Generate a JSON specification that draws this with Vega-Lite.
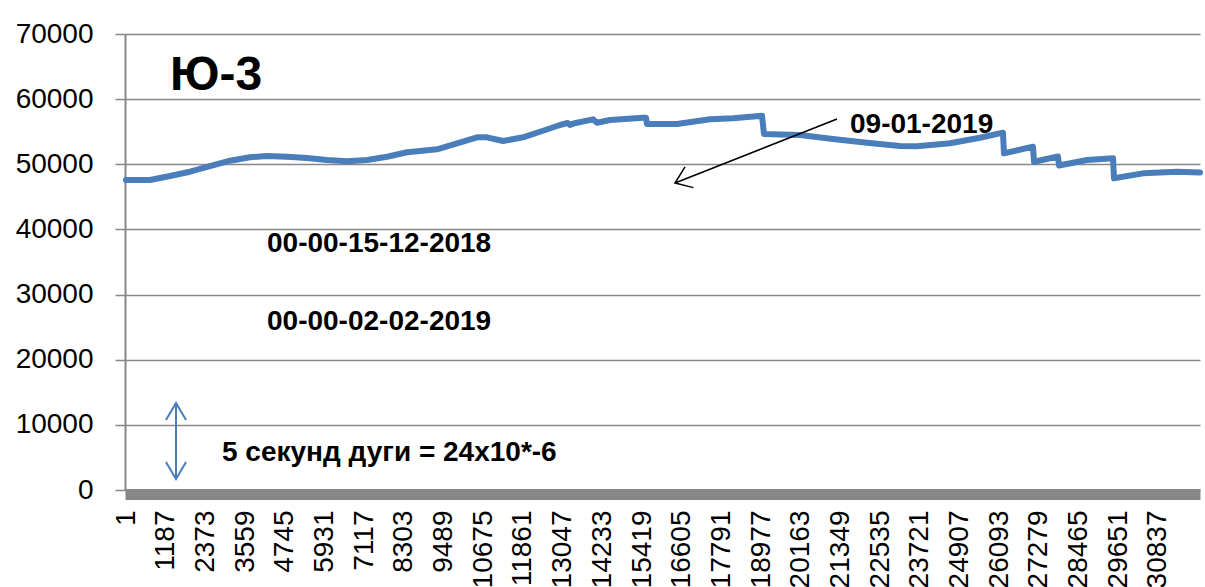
{
  "$schema": "https://vega.github.io/schema/vega-lite/v6.json",
  "width": 1075,
  "height": 456,
  "autosize": "none",
  "padding": {"left": 125, "top": 34, "right": 5, "bottom": 97},
  "background": "white",
  "config": {"view": {"stroke": null}, "font": "Liberation Sans"},
  "datasets": {
    "series": [
      {"idx": 1, "val": 47600}, {"idx": 718, "val": 47585}, {"idx": 1316, "val": 48200}, {"idx": 1913, "val": 48860},
      {"idx": 2511, "val": 49730}, {"idx": 3109, "val": 50550}, {"idx": 3706, "val": 51070}, {"idx": 4214, "val": 51270},
      {"idx": 4812, "val": 51160}, {"idx": 5409, "val": 50960}, {"idx": 6007, "val": 50655}, {"idx": 6605, "val": 50455},
      {"idx": 7202, "val": 50655}, {"idx": 7800, "val": 51160}, {"idx": 8398, "val": 51840}, {"idx": 8786, "val": 52040},
      {"idx": 9294, "val": 52300}, {"idx": 9892, "val": 53220}, {"idx": 10489, "val": 54140}, {"idx": 10788, "val": 54140},
      {"idx": 11266, "val": 53570}, {"idx": 11864, "val": 54140}, {"idx": 12461, "val": 55150}, {"idx": 12969, "val": 56030},
      {"idx": 13200, "val": 56350}, {"idx": 13268, "val": 56050}, {"idx": 13400, "val": 56300},
      {"idx": 13955, "val": 56900}, {"idx": 14074, "val": 56380}, {"idx": 14463, "val": 56800}, {"idx": 15449, "val": 57150},
      {"idx": 15539, "val": 57150}, {"idx": 15569, "val": 56180}, {"idx": 16465, "val": 56180}, {"idx": 17451, "val": 56900},
      {"idx": 18138, "val": 57060}, {"idx": 19005, "val": 57450}, {"idx": 19064, "val": 54650}, {"idx": 20140, "val": 54490},
      {"idx": 21126, "val": 53880}, {"idx": 22142, "val": 53310}, {"idx": 23128, "val": 52800}, {"idx": 23635, "val": 52760},
      {"idx": 24622, "val": 53220}, {"idx": 25518, "val": 54080}, {"idx": 26205, "val": 54850}, {"idx": 26235, "val": 51680},
      {"idx": 27102, "val": 52700}, {"idx": 27132, "val": 50390}, {"idx": 27849, "val": 51190}, {"idx": 27879, "val": 49810},
      {"idx": 28716, "val": 50655}, {"idx": 29493, "val": 50920}, {"idx": 29523, "val": 47850}, {"idx": 30389, "val": 48610},
      {"idx": 31405, "val": 48860}, {"idx": 32092, "val": 48740}
    ],
    "blackArrow": [{"idx": 21246, "val": 56950}, {"idx": 16405, "val": 47125}],
    "blackTip": [{"idx": 16405, "val": 47125}],
    "blueArrow": [{"idx": 1495, "val": 13355}, {"idx": 1495, "val": 1690}],
    "blueTop": [{"idx": 1495, "val": 13355}],
    "blueBottom": [{"idx": 1495, "val": 1690}],
    "title": [{"idx": 1316, "val": 61400, "label": "Ю-3"}],
    "notes": [
      {"idx": 21634, "val": 54800, "label": "09-01-2019"},
      {"idx": 4214, "val": 36530, "label": "00-00-15-12-2018"},
      {"idx": 4214, "val": 24560, "label": "00-00-02-02-2019"},
      {"idx": 2870, "val": 4450, "label": "5 секунд дуги = 24x10*-6"}
    ]
  },
  "layer": [
    {
      "data": {"name": "series"},
      "mark": {"type": "line", "color": "#4a7ebb", "strokeWidth": 6, "strokeJoin": "round", "strokeCap": "round"},
      "encoding": {
        "x": {
          "field": "idx", "type": "quantitative",
          "scale": {"domain": [-29, 32092], "nice": false, "zero": false},
          "axis": {
            "title": null,
            "values": [1, 1187, 2373, 3559, 4745, 5931, 7117, 8303, 9489, 10675, 11861, 13047, 14233, 15419, 16605, 17791, 18977, 20163, 21349, 22535, 23721, 24907, 26093, 27279, 28465, 29651, 30837],
            "format": "d",
            "labelAngle": -90,
            "labelFontSize": 28,
            "labelFont": "Liberation Sans",
            "labelColor": "black",
            "labelPadding": 16,
            "labelOverlap": false,
            "labelFlush": false,
            "labelBound": false,
            "ticks": false,
            "grid": false,
            "domainWidth": 11,
            "domainColor": "#878787",
            "offset": 4
          }
        },
        "y": {
          "field": "val", "type": "quantitative",
          "scale": {"domain": [0, 70000], "nice": false},
          "axis": {
            "title": null,
            "values": [0, 10000, 20000, 30000, 40000, 50000, 60000, 70000],
            "format": "d",
            "labelFontSize": 28,
            "labelFont": "Liberation Sans",
            "labelColor": "black",
            "labelPadding": 22,
            "tickSize": 10,
            "tickColor": "#878787",
            "tickWidth": 1.5,
            "grid": true,
            "gridColor": "#878787",
            "gridWidth": 1.5,
            "domainColor": "#878787",
            "domainWidth": 2
          }
        }
      }
    },
    {
      "data": {"name": "blackArrow"},
      "mark": {"type": "line", "color": "black", "strokeWidth": 1.5},
      "encoding": {"x": {"field": "idx", "type": "quantitative"}, "y": {"field": "val", "type": "quantitative"}}
    },
    {
      "data": {"name": "blackTip"},
      "mark": {"type": "point", "shape": "M-0.73,1L0,0L0.73,1", "filled": false, "stroke": "black", "strokeWidth": 1.5, "size": 940, "angle": 248, "opacity": 1},
      "encoding": {"x": {"field": "idx", "type": "quantitative"}, "y": {"field": "val", "type": "quantitative"}}
    },
    {
      "data": {"name": "blueArrow"},
      "mark": {"type": "line", "color": "#4a7ebb", "strokeWidth": 2},
      "encoding": {"x": {"field": "idx", "type": "quantitative"}, "y": {"field": "val", "type": "quantitative"}}
    },
    {
      "data": {"name": "blueTop"},
      "mark": {"type": "point", "shape": "M-0.59,1L0,0L0.59,1", "filled": false, "stroke": "#4a7ebb", "strokeWidth": 2, "size": 1156, "angle": 0, "opacity": 1},
      "encoding": {"x": {"field": "idx", "type": "quantitative"}, "y": {"field": "val", "type": "quantitative"}}
    },
    {
      "data": {"name": "blueBottom"},
      "mark": {"type": "point", "shape": "M-0.59,1L0,0L0.59,1", "filled": false, "stroke": "#4a7ebb", "strokeWidth": 2, "size": 1156, "angle": 180, "opacity": 1},
      "encoding": {"x": {"field": "idx", "type": "quantitative"}, "y": {"field": "val", "type": "quantitative"}}
    },
    {
      "data": {"name": "title"},
      "mark": {"type": "text", "align": "left", "baseline": "alphabetic", "font": "Liberation Sans", "fontWeight": "bold", "fontSize": 48, "color": "black"},
      "encoding": {"x": {"field": "idx", "type": "quantitative"}, "y": {"field": "val", "type": "quantitative"}, "text": {"field": "label"}}
    },
    {
      "data": {"name": "notes"},
      "mark": {"type": "text", "align": "left", "baseline": "alphabetic", "font": "Liberation Sans", "fontWeight": "bold", "fontSize": 28, "color": "black"},
      "encoding": {"x": {"field": "idx", "type": "quantitative"}, "y": {"field": "val", "type": "quantitative"}, "text": {"field": "label"}}
    }
  ]
}
